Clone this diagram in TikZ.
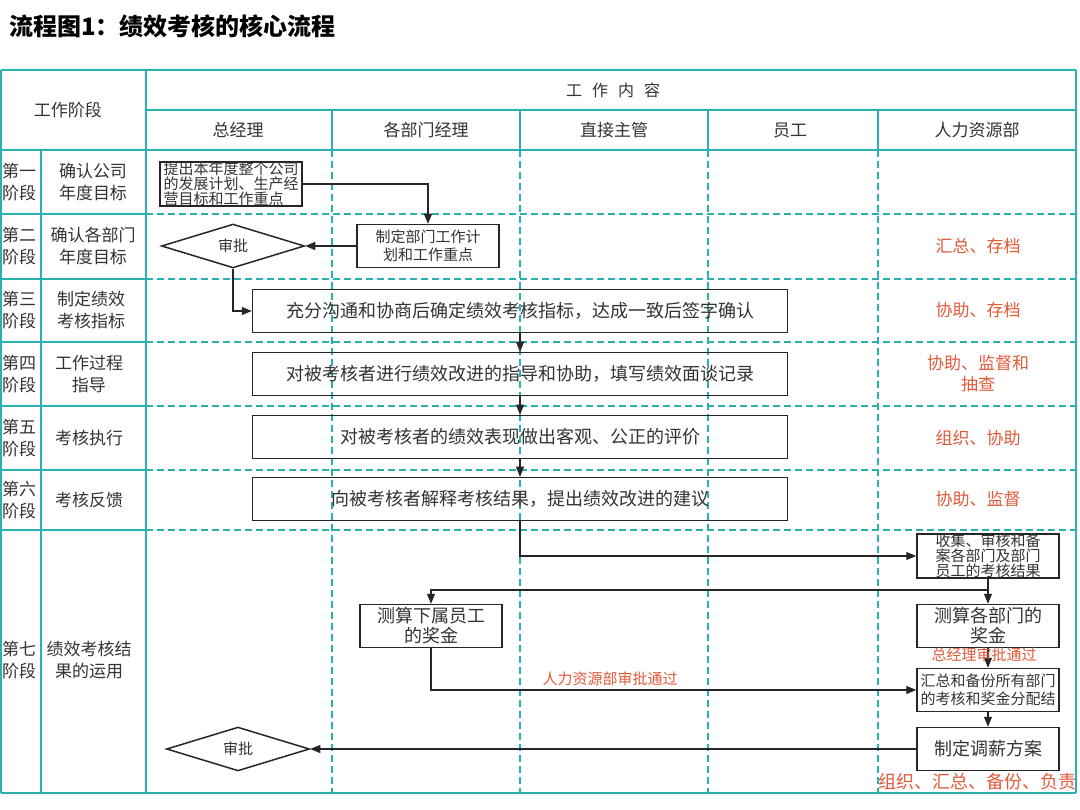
\documentclass[tikz,border=0pt]{standalone}
\usepackage{fontspec}
\setmainfont{Noto Sans CJK SC}
\usetikzlibrary{arrows.meta,shapes.geometric}
\definecolor{tealc}{HTML}{2BB0B0}
\definecolor{redc}{HTML}{E25A3A}
\definecolor{txtc}{HTML}{333333}
\definecolor{boxc}{HTML}{262626}
\tikzset{
  tsolid/.style={draw=tealc, line width=1.8pt},
  tdash/.style={draw=tealc, line width=1.8pt, dash pattern=on 7pt off 4pt},
  box/.style={draw=boxc, line width=1.5pt, minimum width=142pt, minimum height=43pt, inner sep=0pt, align=center, text=txtc, font=\fontsize{18}{20}\selectfont},
  smallbox/.style={box, font=\fontsize{15}{18}\selectfont},
  tightbox/.style={box, align=left, font=\fontsize{15}{13.6}\selectfont},
  widebox/.style={box, minimum width=535pt},
  dia/.style={diamond, draw=boxc, line width=1.5pt, minimum width=143pt, minimum height=42pt, inner sep=0pt, text=txtc, font=\fontsize{15}{18}\selectfont},
  arr/.style={-{Triangle[length=10pt,width=8pt]}, line width=1.1pt, draw=boxc},
  hd/.style={text=txtc, align=center, font=\fontsize{17}{22}\selectfont},
  lab/.style={text=txtc, align=center, font=\fontsize{17}{22}\selectfont},
  redt/.style={text=redc, align=center, font=\fontsize{17}{21}\selectfont},
  redsmall/.style={text=redc, font=\fontsize{15}{18}\selectfont},
}
\begin{document}
\begin{tikzpicture}[x=1pt,y=-1pt]
\fill[white] (0,0) rectangle (1080,810);
\useasboundingbox (0,0) rectangle (1080,810);

% title
\node[anchor=west, inner sep=0pt, font=\bfseries\fontsize{24}{26}\selectfont] (title) at (9,26) {流程图1：绩效考核的核心流程};

% dashed grid inside content area
\foreach \y in {214,279,342,406,470,530} {
  \draw[tdash] (146,\y) -- (1076,\y);
  \draw[tsolid] (1,\y) -- (146,\y);
}
\foreach \x in {332,520,708,878} {
  \draw[tdash] (\x,150) -- (\x,793);
  \draw[tsolid] (\x,110) -- (\x,150);
}
% solid frame
\draw[tsolid] (1,70) -- (1076,70);
\draw[tsolid] (1,793) -- (1076,793);
\draw[tsolid] (1,70) -- (1,793);
\draw[tsolid] (1076,70) -- (1076,793);
\draw[tsolid] (146,70) -- (146,793);
\draw[tsolid] (41,150) -- (41,793);
\draw[tsolid] (146,110) -- (1076,110);
\draw[tsolid] (1,150) -- (1076,150);

% headers
\node[hd] (h0) at (68,110) {工作阶段};
\node[hd, font=\fontsize{16}{20}\selectfont] (h1) at (613,90) {{\spaceskip=10pt 工 作 内 容}};
\node[hd] (c1) at (238,130) {总经理};
\node[hd] (c2) at (426,130) {各部门经理};
\node[hd] (c3) at (614,130) {直接主管};
\node[hd] (c4) at (790,130) {员工};
\node[hd] (c5) at (977,130) {人力资源部};

% stage labels
\node[lab] (s1a) at (19,182) {第一\\阶段};
\node[lab] (s1b) at (93,182) {确认公司\\年度目标};
\node[lab] (s2a) at (19,246) {第二\\阶段};
\node[lab] (s2b) at (93,246) {确认各部门\\年度目标};
\node[lab] (s3a) at (19,310) {第三\\阶段};
\node[lab] (s3b) at (91,310) {制定绩效\\考核指标};
\node[lab] (s4a) at (19,374) {第四\\阶段};
\node[lab] (s4b) at (89,374) {工作过程\\指导};
\node[lab] (s5a) at (19,438) {第五\\阶段};
\node[lab] (s5b) at (89,438) {考核执行};
\node[lab] (s6a) at (19,500) {第六\\阶段};
\node[lab] (s6b) at (89,500) {考核反馈};
\node[lab] (s7a) at (19,660) {第七\\阶段};
\node[lab] (s7b) at (89,660) {绩效考核结\\果的运用};

% HR notes
\node[redt] (n2) at (978,246) {汇总、存档};
\node[redt] (n3) at (978,310) {协助、存档};
\node[redt] (n4) at (978,374) {协助、监督和\\抽查};
\node[redt] (n5) at (978,438) {组织、协助};
\node[redt] (n6) at (978,499) {协助、监督};
\node[redt, font=\fontsize{18}{21}\selectfont] (n7) at (977,782) {组织、汇总、备份、负责};

% flow boxes
\node[tightbox] (b1) at (231,184) {提出本年度整个公司\\的发展计划、生产经\\营目标和工作重点};
\node[smallbox] (b2) at (428,246) {制定部门工作计\\划和工作重点};
\node[dia] (d1) at (233,246) {审批};
\node[widebox] (b3) at (520,311) {充分沟通和协商后确定绩效考核指标，达成一致后签字确认};
\node[widebox] (b4) at (520,374) {对被考核者进行绩效改进的指导和协助，填写绩效面谈记录};
\node[widebox] (b5) at (520,437) {对被考核者的绩效表现做出客观、公正的评价};
\node[widebox] (b6) at (520,499) {向被考核者解释考核结果，提出绩效改进的建议};
\node[tightbox] (b7) at (988,556) {收集、审核和备\\案各部门及部门\\员工的考核结果};
\node[box] (b8) at (988,626) {测算各部门的\\奖金};
\node[box] (bs) at (431,626) {测算下属员工\\的奖金};
\node[smallbox] (b9) at (988,690) {汇总和备份所有部门\\的考核和奖金分配结};
\node[box] (b10) at (988,749) {制定调薪方案};
\node[dia] (d2) at (238,749) {审批};

% connectors
\draw[arr] (b1.east) -| (b2.north);
\draw[arr] (b2.west) -- (d1.east);
\draw[arr] (d1.south) |- (b3.west);
\draw[arr] (b3.south) -- (b4.north);
\draw[arr] (b4.south) -- (b5.north);
\draw[arr] (b5.south) -- (b6.north);
\draw[arr] (b6.south) |- (b7.west);
\draw[arr] (b7.south) -- (b8.north);
\coordinate (br) at (988,590);
\draw[arr] (br) -| (bs.north);
\draw[arr] (b8.south) -- (b9.north);
\draw[arr] (bs.south) |- (b9.west);
\draw[arr] (b9.south) -- (b10.north);
\draw[arr] (b10.west) -- (d2.east);

% approval labels
\node[redsmall] (a1) at (984,655) {总经理审批通过};
\node[redsmall] (a2) at (610,679) {人力资源部审批通过};
\end{tikzpicture}
\end{document}
